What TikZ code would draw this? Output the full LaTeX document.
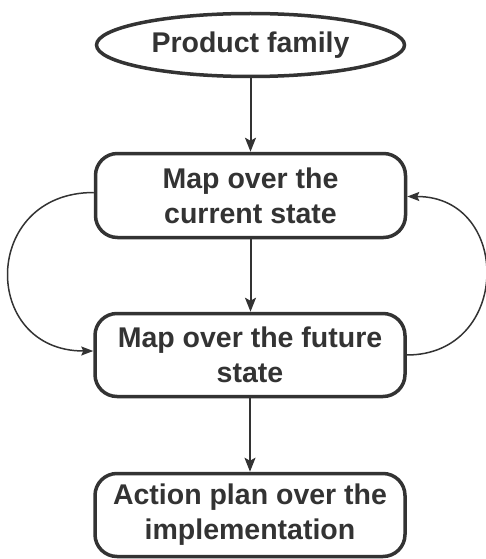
\documentclass[tikz,border=0pt]{standalone}
\usepackage{fontspec}
\setmainfont{Liberation Sans}
\usetikzlibrary{shapes.geometric,arrows.meta}
\definecolor{ink}{HTML}{333333}
\begin{document}
\begin{tikzpicture}[x=1pt,y=-1pt,
  txt/.style={text=ink,font=\fontsize{28.5}{35}\selectfont\bfseries,align=center,inner sep=0pt},
  startnode/.style={txt,ellipse,draw=ink,line width=3.5pt,minimum width=308pt,minimum height=63pt},
  stepbox/.style={txt,rectangle,draw=ink,line width=3.5pt,rounded corners=22pt,minimum width=310pt,minimum height=84pt},
  flow/.style={draw=ink,line width=2pt,-{Stealth[length=14pt,width=11pt,inset=3pt]}},
  loop/.style={draw=ink,line width=1.5pt,-{Stealth[length=12pt,width=9pt,inset=2pt]}}]
\useasboundingbox (0,0) rectangle (486,559);
\node[startnode] (pf) at (250.5,45) {Product family};
\node[stepbox] (cur) at (250.5,195.5) {Map over the\\current state};
\node[stepbox,minimum height=83pt] (fut) at (250,355) {Map over the future\\state};
\node[stepbox,minimum height=83pt] (act) at (250,515) {Action plan over the\\implementation};
\draw[flow] (pf.south) -- (pf.south |- cur.north);
\draw[flow] (cur.south) -- (cur.south |- fut.north);
\draw[flow] (fut.south) -- (fut.south |- act.north);
\draw[loop] ([yshift=3pt]cur.west) .. controls +(-113,0) and +(-113,0) .. ([yshift=4pt]fut.west);
\draw[loop] (fut.east) .. controls +(105,0) and +(105,0) .. ([yshift=-1pt]cur.east);
\end{tikzpicture}
\end{document}
